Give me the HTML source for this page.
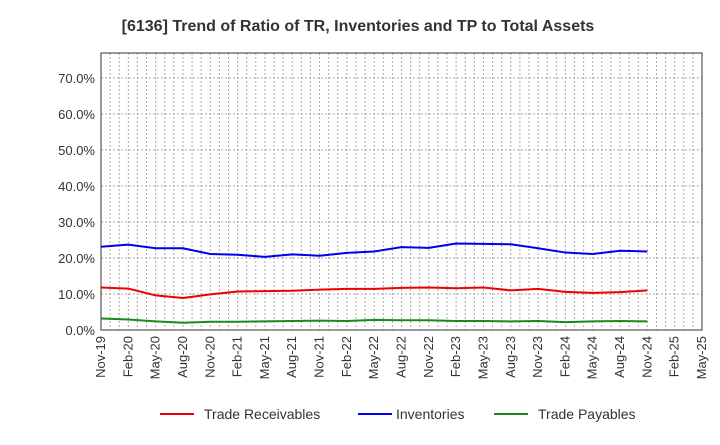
<!DOCTYPE html>
<html><head><meta charset="utf-8"><style>
body{margin:0;background:#fff;font-family:"Liberation Sans",sans-serif}
</style></head><body>
<svg width="720" height="440" xmlns="http://www.w3.org/2000/svg" font-family="Liberation Sans, sans-serif">
<text x="358" y="31" text-anchor="middle" font-size="16" font-weight="bold" fill="#333">[6136]  Trend of Ratio of TR, Inventories and TP to Total Assets</text>
<g id="grid"></g><g id="axes"></g><g id="series"></g>
<g font-size="14" fill="#333">
<line x1="160" y1="414" x2="194" y2="414" stroke="#e00" stroke-width="2"/><text x="204" y="419">Trade Receivables</text>
<line x1="358" y1="414" x2="392" y2="414" stroke="#00e" stroke-width="2"/><text x="396" y="419">Inventories</text>
<line x1="494" y1="414" x2="528" y2="414" stroke="#1a8a1a" stroke-width="2"/><text x="538" y="419">Trade Payables</text>
</g>
</svg>
<script>
const xLabels=["Nov-19","Feb-20","May-20","Aug-20","Nov-20","Feb-21","May-21","Aug-21","Nov-21","Feb-22","May-22","Aug-22","Nov-22","Feb-23","May-23","Aug-23","Nov-23","Feb-24","May-24","Aug-24","Nov-24","Feb-25","May-25"];
const yTicks=[0,10,20,30,40,50,60,70];
const tradeReceivables=[11.8,11.5,9.6,8.9,9.9,10.7,10.8,10.9,11.2,11.4,11.4,11.7,11.8,11.6,11.8,11.0,11.4,10.6,10.3,10.5,11.0];
const inventories=[23.1,23.7,22.7,22.7,21.1,20.9,20.3,21.0,20.6,21.4,21.8,23.0,22.8,24.0,23.9,23.8,22.7,21.5,21.1,22.0,21.8];
const tradePayables=[3.2,2.9,2.4,2.0,2.3,2.3,2.4,2.5,2.6,2.5,2.8,2.7,2.7,2.5,2.5,2.4,2.5,2.2,2.4,2.5,2.4];
const L=101,R=702,T=53,B=330,yMax=76.9;
const n=xLabels.length-1;
const x=i=>L+(R-L)*i/n;
const y=v=>B-(B-T)*v/yMax;
const NS="http://www.w3.org/2000/svg";
function mk(tag,a,p){const e=document.createElementNS(NS,tag);for(const k in a)e.setAttribute(k,a[k]);p.appendChild(e);return e;}
const g=document.getElementById('grid'),ax=document.getElementById('axes'),s=document.getElementById('series');
for(let m=1;m<n*3;m++){const xx=L+(R-L)*m/(n*3);
const l=mk('line',{x1:xx,x2:xx,y1:T,y2:B,stroke:'#aaa','stroke-dasharray':'2,2','stroke-width':1},g);
}
yTicks.forEach(v=>{const yy=y(v);
if(v>0){const l=mk('line',{x1:L,x2:R,y1:yy,y2:yy,stroke:'#aaa','stroke-dasharray':'2,2'},g);
}
const t=mk('text',{x:L-6,y:yy+5,'text-anchor':'end','font-size':13,fill:'#333'},ax);t.textContent=v.toFixed(1)+'%';
});
const fr=mk('rect',{x:L,y:T,width:R-L,height:B-T,fill:'none',stroke:'#333'},ax);

xLabels.forEach((lab,i)=>{const xx=x(i);
const t=mk('text',{transform:`translate(${xx+4},${B+6}) rotate(-90)`,'text-anchor':'end','font-size':13,fill:'#333'},ax);t.textContent=lab;
});
[[tradeReceivables,'#e00','trade-receivables-line'],[inventories,'#00e','inventories-line'],[tradePayables,'#1a8a1a','trade-payables-line']].forEach(([d,c,nm])=>{
const p=mk('polyline',{points:d.map((v,i)=>x(i)+','+y(v)).join(' '),fill:'none',stroke:c,'stroke-width':2},s);
});
</script>
</body></html>
